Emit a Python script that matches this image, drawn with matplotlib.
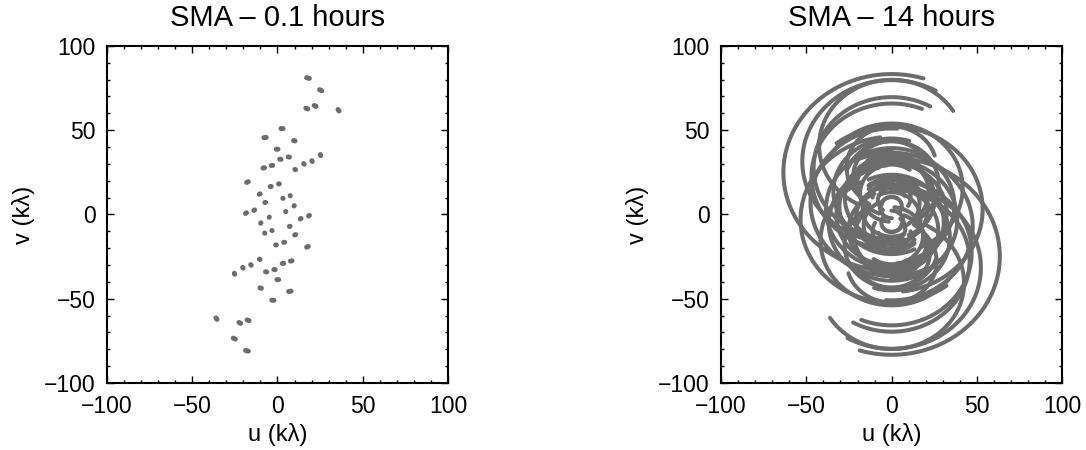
import numpy as np
import matplotlib.pyplot as plt

plt.rcParams['font.family'] = ['Liberation Sans', 'DejaVu Sans']

# uv point of each of the 28 SMA baselines at the start of the observation (k lambda)
base_u = [18.7, 25.9, 17.8, 22.6, 36.1, 3.3, -6.6, 10.3, 0.3, 2.1, 7.0, 25.3, 20.4, 15.7,
          10.6, -7.6, -2.8, -17.1, -3.7, 1.1, -10.1, 3.3, 7.5, -7.0, 9.7, -18.2, -13.4, -4.8]
base_v = [80.7, 73.4, 62.6, 64.1, 61.4, 50.9, 45.7, 43.6, 38.7, 32.7, 34.0, 34.9, 31.4, 29.8,
          26.5, 27.7, 29.1, 19.4, 16.6, 18.1, 12.2, 9.5, 11.0, 7.2, 5.0, 1.0, 2.7, -1.6]

lat = 19.82        # deg, Mauna Kea
dec = 67.0         # deg, source declination
ha_start = -5.73   # hours
durations = [0.1, 14.0]
titles = ['SMA \u2013 0.1 hours', 'SMA \u2013 14 hours']

ticks = [-100, -50, 0, 50, 100]
col = '#6c6c6c'


def baseline_en(u0, v0):
    # local east / north baseline components reproducing (u0, v0) at ha_start
    L, d, H = np.radians(lat), np.radians(dec), np.radians(ha_start * 15)
    m = np.array([[-np.sin(L) * np.sin(H), np.cos(H)],
                  [np.sin(d) * np.sin(L) * np.cos(H) + np.cos(L) * np.cos(d), np.sin(d) * np.sin(H)]])
    n, e = np.linalg.solve(m, [u0, v0])
    return e, n


def uv_track(e, n, hours):
    L, d = np.radians(lat), np.radians(dec)
    h = np.radians((ha_start + np.linspace(0, hours, max(int(hours * 60), 4))) * 15)
    x = -n * np.sin(L)
    u = x * np.sin(h) + e * np.cos(h)
    v = -np.sin(d) * (x * np.cos(h) - e * np.sin(h)) + n * np.cos(L) * np.cos(d)
    return u, v


fig = plt.figure(figsize=(10.86, 4.5), dpi=100)
axes = [fig.add_axes([0.0985, 0.149, 0.314, 0.749]),
        fig.add_axes([0.664, 0.149, 0.314, 0.749])]

for ax, hours, title in zip(axes, durations, titles):
    lw = 3.6 if hours < 1 else 2.9
    for bu, bv in zip(base_u, base_v):
        e, n = baseline_en(bu, bv)
        u, v = uv_track(e, n, hours)
        ax.plot(u, v, color=col, lw=lw, solid_capstyle='round')
        ax.plot(-u, -v, color=col, lw=lw, solid_capstyle='round')
    ax.set_xlim(-100, 100)
    ax.set_ylim(-100, 100)
    ax.set_xticks(ticks)
    ax.set_yticks(ticks)
    ax.set_xticks(np.arange(-100, 101, 10), minor=True)
    ax.set_yticks(np.arange(-100, 101, 10), minor=True)
    ax.tick_params(which='both', direction='in', top=True, right=True, labelsize=16.5, width=1.0)
    ax.tick_params(axis='x', which='both', pad=9)
    ax.tick_params(axis='y', which='both', pad=8)
    ax.tick_params(which='major', length=5)
    ax.tick_params(which='minor', length=2.5)
    for s in ax.spines.values():
        s.set_linewidth(1.5)
    ax.set_title(title, fontsize=21, pad=14)
    ax.set_xlabel('u (k\u03bb)', fontsize=17, labelpad=3)
    ax.set_ylabel('v (k\u03bb)', fontsize=17, labelpad=7)

fig.savefig('out.png', dpi=100)
